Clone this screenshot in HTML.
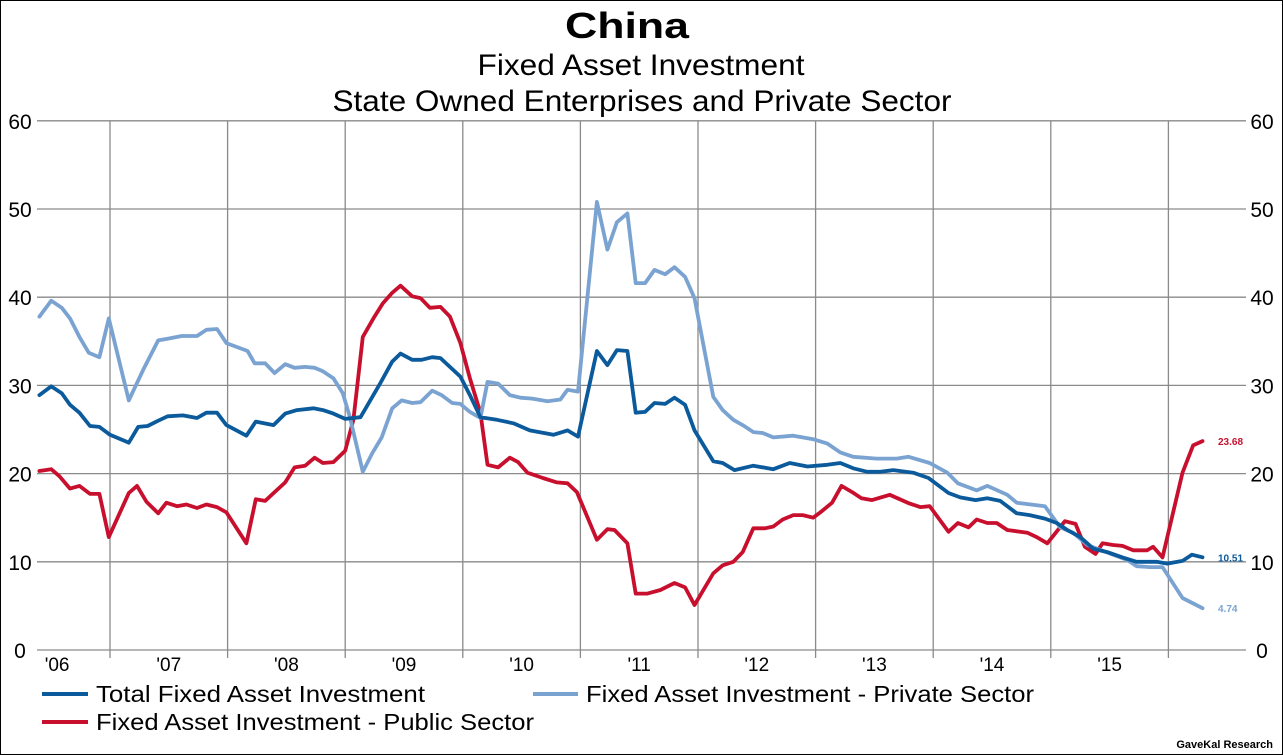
<!DOCTYPE html>
<html><head><meta charset="utf-8">
<style>
html,body{margin:0;padding:0;background:#fff;}
svg{display:block;font-family:"Liberation Sans",Arial,sans-serif;}
</style></head>
<body>
<svg id="chart" width="1283" height="755" viewBox="0 0 1283 755" xmlns="http://www.w3.org/2000/svg">
<rect x="0.5" y="0.5" width="1282" height="754" fill="#fff" stroke="#000" stroke-width="1"/>
<text x="627" y="38" text-anchor="middle" font-size="36" font-weight="bold" textLength="124" lengthAdjust="spacingAndGlyphs">China</text>
<text x="641" y="75" text-anchor="middle" font-size="30" textLength="327" lengthAdjust="spacingAndGlyphs">Fixed Asset Investment</text>
<text x="642" y="111" text-anchor="middle" font-size="30" textLength="619" lengthAdjust="spacingAndGlyphs">State Owned Enterprises and Private Sector</text>
<g id="grid"></g>
<g id="axes"></g>
<g id="series"></g>
<g id="legend">
  <line x1="42" y1="694" x2="88" y2="694" stroke="#0a5a9c" stroke-width="4"/>
  <text x="96" y="702" font-size="23" textLength="329" lengthAdjust="spacingAndGlyphs">Total Fixed Asset Investment</text>
  <line x1="533" y1="694" x2="578" y2="694" stroke="#7ba3d2" stroke-width="4"/>
  <text x="586" y="702" font-size="23" textLength="448" lengthAdjust="spacingAndGlyphs">Fixed Asset Investment - Private Sector</text>
  <line x1="42" y1="722" x2="88" y2="722" stroke="#c8102e" stroke-width="4"/>
  <text x="96" y="730" font-size="23" textLength="438" lengthAdjust="spacingAndGlyphs">Fixed Asset Investment - Public Sector</text>
</g>
<text x="1273" y="748" text-anchor="end" font-size="11" font-weight="bold">GaveKal Research</text>
</svg>
<script>
const yTicks = [0, 10, 20, 30, 40, 50, 60];
const yearGrid = [2007, 2008, 2009, 2010, 2011, 2012, 2013, 2014, 2015, 2016];
const yearLabels = ["'06","'07","'08","'09","'10","'11","'12","'13","'14","'15"];
const yearLabelDates = [2006.55, 2007.5, 2008.5, 2009.5, 2010.5, 2011.5, 2012.5, 2013.5, 2014.5, 2015.5];

const totalDates = [2006.40,2006.50,2006.59,2006.66,2006.74,2006.83,2006.91,2007.00,2007.16,2007.24,2007.32,2007.41,2007.49,2007.62,2007.74,2007.82,2007.91,2007.99,2008.16,2008.24,2008.39,2008.49,2008.59,2008.73,2008.81,2008.90,2009.00,2009.13,2009.30,2009.40,2009.47,2009.57,2009.65,2009.74,2009.81,2009.89,2009.98,2010.06,2010.15,2010.29,2010.43,2010.57,2010.77,2010.89,2010.98,2011.14,2011.23,2011.31,2011.40,2011.47,2011.55,2011.63,2011.72,2011.80,2011.89,2011.97,2012.13,2012.21,2012.31,2012.47,2012.64,2012.78,2012.93,2013.10,2013.21,2013.32,2013.44,2013.55,2013.66,2013.83,2013.96,2014.13,2014.23,2014.36,2014.46,2014.57,2014.71,2014.82,2014.95,2015.05,2015.14,2015.25,2015.36,2015.48,2015.61,2015.73,2015.90,2015.99,2016.12,2016.20,2016.29];
const totalValues = [28.9,29.9,29.1,27.8,26.9,25.4,25.3,24.4,23.5,25.3,25.4,26.0,26.5,26.6,26.3,26.9,26.9,25.5,24.3,25.9,25.5,26.8,27.2,27.4,27.2,26.8,26.2,26.4,30.3,32.7,33.6,32.9,32.9,33.2,33.1,32.1,31.0,28.9,26.4,26.1,25.7,24.9,24.4,24.9,24.2,33.9,32.3,34.0,33.9,26.9,27.0,28.0,27.9,28.6,27.8,24.9,21.4,21.2,20.4,20.9,20.5,21.2,20.8,21.0,21.2,20.6,20.2,20.2,20.4,20.1,19.5,17.8,17.3,17.0,17.2,16.9,15.5,15.3,14.9,14.4,13.6,12.8,11.5,11.1,10.5,10.0,10.0,9.8,10.1,10.8,10.51];

const privateDates = [2006.40,2006.50,2006.59,2006.66,2006.74,2006.82,2006.91,2006.99,2007.16,2007.28,2007.41,2007.49,2007.61,2007.74,2007.82,2007.91,2007.99,2008.17,2008.23,2008.32,2008.40,2008.49,2008.57,2008.66,2008.74,2008.81,2008.90,2008.98,2009.04,2009.15,2009.23,2009.31,2009.40,2009.48,2009.57,2009.64,2009.74,2009.82,2009.91,2009.98,2010.06,2010.15,2010.21,2010.30,2010.40,2010.49,2010.59,2010.72,2010.83,2010.89,2010.98,2011.14,2011.23,2011.31,2011.40,2011.47,2011.55,2011.63,2011.72,2011.80,2011.89,2011.97,2012.13,2012.21,2012.30,2012.38,2012.47,2012.55,2012.64,2012.81,2012.98,2013.10,2013.21,2013.32,2013.52,2013.69,2013.79,2013.97,2014.12,2014.21,2014.37,2014.46,2014.63,2014.71,2014.95,2015.08,2015.19,2015.31,2015.53,2015.65,2015.73,2015.84,2015.95,2016.12,2016.29];
const privateValues = [37.8,39.6,38.8,37.6,35.5,33.7,33.2,37.6,28.3,31.7,35.1,35.3,35.6,35.6,36.3,36.4,34.8,33.9,32.5,32.5,31.4,32.4,32.0,32.1,32.0,31.6,30.8,29.1,26.4,20.2,22.3,24.1,27.4,28.3,28.0,28.1,29.4,28.9,28.0,27.9,27.0,26.3,30.4,30.2,28.9,28.6,28.5,28.2,28.4,29.5,29.3,50.8,45.4,48.5,49.5,41.6,41.6,43.1,42.6,43.4,42.3,39.9,28.7,27.2,26.1,25.5,24.7,24.6,24.1,24.3,23.9,23.4,22.4,21.9,21.7,21.7,21.9,21.2,20.1,18.9,18.1,18.6,17.6,16.7,16.3,13.9,13.3,11.9,10.8,10.2,9.5,9.4,9.4,5.9,4.74];

const publicDates = [2006.40,2006.50,2006.57,2006.66,2006.74,2006.83,2006.91,2006.99,2007.16,2007.23,2007.31,2007.41,2007.48,2007.57,2007.65,2007.74,2007.82,2007.91,2007.99,2008.16,2008.24,2008.32,2008.40,2008.49,2008.57,2008.66,2008.74,2008.81,2008.90,2009.00,2009.07,2009.15,2009.24,2009.32,2009.40,2009.47,2009.57,2009.64,2009.72,2009.81,2009.89,2009.98,2010.06,2010.15,2010.21,2010.30,2010.40,2010.47,2010.55,2010.68,2010.80,2010.89,2010.97,2011.14,2011.23,2011.29,2011.40,2011.47,2011.57,2011.68,2011.80,2011.89,2011.97,2012.13,2012.21,2012.30,2012.38,2012.47,2012.57,2012.64,2012.72,2012.81,2012.89,2012.98,2013.04,2013.14,2013.22,2013.31,2013.39,2013.48,2013.63,2013.80,2013.89,2013.97,2014.13,2014.21,2014.30,2014.37,2014.46,2014.54,2014.63,2014.80,2014.88,2014.97,2015.12,2015.21,2015.29,2015.38,2015.44,2015.53,2015.61,2015.70,2015.82,2015.87,2015.95,2016.12,2016.21,2016.29];
const publicValues = [20.3,20.5,19.7,18.3,18.6,17.7,17.7,12.8,17.8,18.6,16.8,15.5,16.7,16.3,16.5,16.1,16.5,16.2,15.6,12.1,17.1,16.9,17.9,19.0,20.7,20.9,21.8,21.2,21.3,22.6,26.1,35.5,37.6,39.3,40.5,41.3,40.1,39.9,38.8,38.9,37.8,34.8,30.8,26.9,21.0,20.7,21.8,21.3,20.1,19.5,19.0,18.9,17.9,12.5,13.7,13.6,12.1,6.4,6.4,6.8,7.6,7.1,5.1,8.7,9.6,10.0,11.1,13.8,13.8,14.0,14.8,15.3,15.3,15.0,15.6,16.7,18.6,17.9,17.2,17.0,17.6,16.6,16.2,16.3,13.4,14.4,13.9,14.8,14.4,14.4,13.6,13.3,12.8,12.1,14.6,14.3,11.7,10.9,12.1,11.9,11.8,11.3,11.3,11.7,10.5,20.1,23.2,23.68];

const NS = "http://www.w3.org/2000/svg";
const X0 = 110, PX_PER_YEAR = 117.6, Y0 = 650, PX_PER_UNIT = 8.82;
function xs(t){ return X0 + (t - 2007) * PX_PER_YEAR; }
function ys(v){ return Y0 - v * PX_PER_UNIT; }
function mk(tag, attrs, parent){ const e = document.createElementNS(NS, tag); for (const k in attrs) e.setAttribute(k, attrs[k]); parent.appendChild(e); return e; }

const grid = document.getElementById('grid');
const axes = document.getElementById('axes');
const series = document.getElementById('series');

yTicks.forEach(v => {
  const l = mk('line', {x1: 37, x2: 1246, y1: ys(v), y2: ys(v), stroke: '#8a8a8a', 'stroke-width': 1.3}, grid);
  
  
  const tl = mk('text', {x: 20, y: ys(v) + 8, 'text-anchor': 'middle', 'font-size': 21}, axes);
  tl.textContent = v;
  
  
  const tr = mk('text', {x: 1262, y: ys(v) + 8, 'text-anchor': 'middle', 'font-size': 21}, axes);
  tr.textContent = v;
  
  
});
yearGrid.forEach(t => {
  const l = mk('line', {x1: xs(t), x2: xs(t), y1: ys(60), y2: Y0 + 8, stroke: '#8a8a8a', 'stroke-width': 1.3}, grid);
  
  
});
yearLabels.forEach((lab, i) => {
  const t = mk('text', {x: xs(yearLabelDates[i]), y: 671, 'text-anchor': 'middle', 'font-size': 19}, axes);
  t.textContent = lab;
  
  
});

function drawSeries(dates, vals, color, name){
  const pts = dates.map((d, i) => xs(d).toFixed(1) + ',' + ys(vals[i]).toFixed(1)).join(' ');
  const p = mk('polyline', {points: pts, fill: 'none', stroke: color, 'stroke-width': 3.8, 'stroke-linejoin': 'round', 'stroke-linecap': 'round'}, series);
  
  
  const last = vals[vals.length - 1];
  const lt = mk('text', {x: 1218, y: ys(last) + 4, 'font-size': 10, 'font-weight': 'bold', fill: color}, series);
  lt.textContent = last.toFixed(2);
  
  
}
drawSeries(publicDates, publicValues, '#c8102e', 'public-sector');
drawSeries(privateDates, privateValues, '#7ba3d2', 'private-sector');
drawSeries(totalDates, totalValues, '#0a5a9c', 'total-fai');
</script>
</body></html>
